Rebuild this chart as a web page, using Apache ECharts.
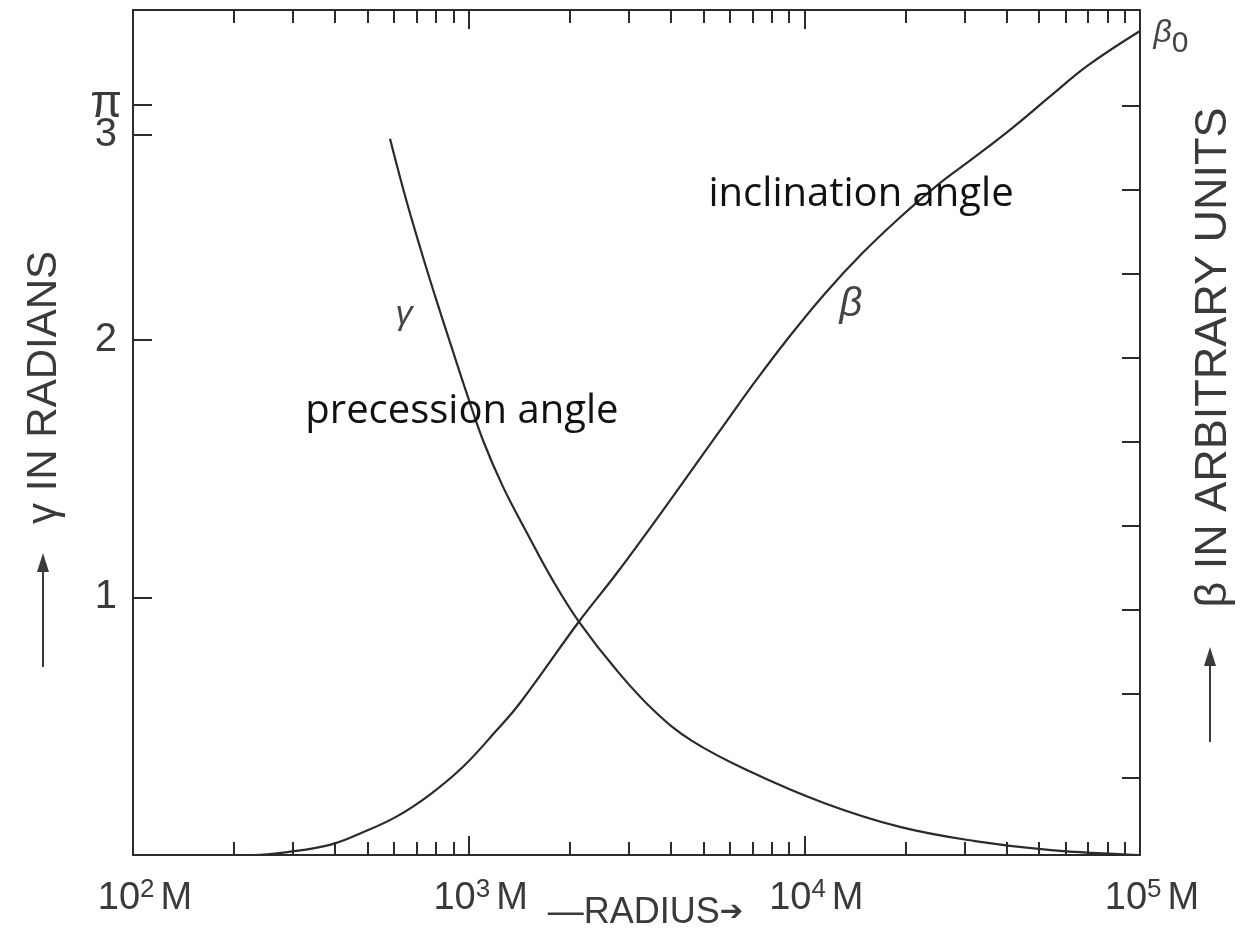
<!DOCTYPE html>
<html>
<head>
<meta charset="utf-8">
<title>Precession and inclination angle vs radius</title>
<script src="https://cdn.jsdelivr.net/npm/echarts@6.0.0/dist/echarts.min.js"></script>
<style>
  html, body { margin: 0; padding: 0; background: #fff; }
  #chart { width: 1250px; height: 937px; }
</style>
</head>
<body>
<div id="chart"></div>
<script>
// radius in units of M
const gammaRadius = [583, 646, 716, 794, 880, 988, 1103, 1265, 1492, 1783, 2132, 2768, 3567, 4628, 6839, 11440, 19260, 32220, 54300, 100000]
// precession angle γ, radians
const gammaValue = [2.78, 2.56, 2.36, 2.17, 1.99, 1.79, 1.61, 1.43, 1.25, 1.065, 0.905, 0.715, 0.56, 0.443, 0.326, 0.202, 0.109, 0.054, 0.019, 0.0]

const betaRadius = [100, 228, 294, 386, 484, 611, 767, 962, 1215, 1422, 2132, 2768, 4062, 6003, 7178, 8818, 11440, 14850, 19260, 24830, 32220, 41790, 54300, 69980, 100000]
// inclination angle β, arbitrary units (right axis)
const betaValue = [0.08, 0.08, 0.12, 0.2, 0.35, 0.54, 0.8, 1.13, 1.57, 1.89, 2.86, 3.44, 4.35, 5.3, 5.73, 6.2, 6.75, 7.24, 7.67, 8.05, 8.39, 8.74, 9.12, 9.48, 9.89]

const decadeTicks = [100, 1000, 10000, 100000]
const decadeExponents = ['2', '3', '4', '5']
const majorTicks = [1000, 10000]
const minorTicks = [
  200, 300, 400, 500, 600, 700, 800, 900,
  2000, 3000, 4000, 5000, 6000, 7000, 8000, 9000,
  20000, 30000, 40000, 50000, 60000, 70000, 80000, 90000
]
// left scale as drawn: the two top ticks sit where the figure puts them
const gammaTickValues = [1, 2, 2.796]
const gammaTickLabels = ['1', '2', '3']
const piTickValues = [2.913]
const piTickLabels = ['π']
const betaTickValues = [1, 2, 3, 4, 5, 6, 7, 8, 9]

const INK = '#2b2b2b'
const TEXT = '#3a3a3a'
const AXIS_FONT = 'Liberation Sans'
const NOTE_FONT = 'Open Sans'

const chart = echarts.init(document.getElementById('chart'))

function radiusAxis(position, tickValues, tickLength, showLine, extra) {
  return Object.assign({
    type: 'log',
    logBase: 10,
    min: 100,
    max: 100000,
    position,
    axisLine: { show: showLine, onZero: false, lineStyle: { color: INK, width: 2 } },
    axisTick: {
      show: true,
      inside: true,
      length: tickLength,
      customValues: tickValues,
      lineStyle: { color: INK, width: 2 }
    },
    axisLabel: { show: false },
    splitLine: { show: false },
    minorTick: { show: false }
  }, extra || {})
}

function gammaAxis(tickValues, tickLabels, showLine, extra) {
  return Object.assign({
    type: 'value',
    min: 0,
    max: 3.28,
    position: 'left',
    axisLine: { show: showLine, onZero: false, lineStyle: { color: INK, width: 2 } },
    axisTick: { show: true, inside: true, length: 19, customValues: tickValues, lineStyle: { color: INK, width: 2 } },
    axisLabel: {
      customValues: tickValues,
      hideOverlap: false,
      formatter: (v) => tickLabels[tickValues.indexOf(v)],
      fontFamily: AXIS_FONT,
      fontSize: 40,
      color: TEXT,
      margin: 16
    },
    splitLine: { show: false }
  }, extra || {})
}

const noteLabel = (text, extra) => Object.assign({
  show: true,
  formatter: text,
  position: 'right',
  distance: 0,
  fontFamily: NOTE_FONT,
  fontSize: 40,
  color: '#111'
}, extra || {})

const greekLabel = (text, size) => noteLabel(text, {
  fontFamily: AXIS_FONT,
  fontStyle: 'italic',
  fontSize: size,
  color: '#444'
})

const hiddenPoint = {
  symbol: 'circle',
  symbolSize: 1,
  itemStyle: { color: 'rgba(0,0,0,0)' },
  emphasis: { disabled: true }
}

chart.setOption({
  animation: false,
  backgroundColor: '#fff',
  grid: { left: 133, right: 110, top: 10, bottom: 82, containLabel: false, outerBoundsMode: 'none' },
  xAxis: [
    radiusAxis('bottom', minorTicks, 13, true, {
      axisLabel: {
        show: true,
        customValues: decadeTicks,
        hideOverlap: false,
        margin: 22,
        padding: [0, 0, 0, 24],
        formatter: (v) => `{n|10}{s|${decadeExponents[decadeTicks.indexOf(v)]}}{m|M}`,
        rich: {
          n: { fontFamily: AXIS_FONT, fontSize: 38, color: TEXT, lineHeight: 44 },
          s: { fontFamily: AXIS_FONT, fontSize: 26, color: TEXT, lineHeight: 14, verticalAlign: 'top' },
          m: { fontFamily: AXIS_FONT, fontSize: 38, color: TEXT, lineHeight: 44, padding: [0, 0, 0, 6] }
        }
      },
      name: '—RADIUS{a|➔}',
      nameLocation: 'middle',
      nameGap: 40,
      nameMoveOverlap: false,
      nameTextStyle: {
        fontFamily: AXIS_FONT,
        fontSize: 36,
        color: TEXT,
        padding: [0, 0, 0, 18],
        rich: { a: { fontFamily: 'DejaVu Sans', fontSize: 28, color: TEXT } }
      }
    }),
    radiusAxis('bottom', majorTicks, 19, false),
    radiusAxis('top', minorTicks, 13, true),
    radiusAxis('top', majorTicks, 19, false)
  ],
  yAxis: [
    gammaAxis(gammaTickValues, gammaTickLabels, true, {
      name: 'γ IN RADIANS',
      nameLocation: 'middle',
      nameRotate: 90,
      nameGap: 68,
      nameMoveOverlap: false,
      nameTextStyle: { fontFamily: AXIS_FONT, fontSize: 42, color: TEXT, padding: [0, 0, 0, 90] }
    }),
    {
      type: 'value',
      min: 0.08,
      max: 10.14,
      position: 'right',
      axisLine: { show: true, lineStyle: { color: INK, width: 2 } },
      axisTick: { show: true, inside: true, length: 18, customValues: betaTickValues, lineStyle: { color: INK, width: 2 } },
      axisLabel: { show: false },
      splitLine: { show: false },
      name: 'β IN ARBITRARY UNITS',
      nameLocation: 'middle',
      nameRotate: 90,
      nameGap: 51,
      nameMoveOverlap: false,
      nameTextStyle: { fontFamily: AXIS_FONT, fontSize: 45, color: TEXT, padding: [0, 0, 0, 150] }
    },
    gammaAxis(piTickValues, piTickLabels, false, {
      axisLabel: {
        customValues: piTickValues,
        hideOverlap: false,
        formatter: () => piTickLabels[0],
        fontFamily: AXIS_FONT,
        fontSize: 46,
        color: TEXT,
        margin: 11
      }
    })
  ],
  graphic: [
    // the little arrows that lead into the two axis titles
    { type: 'line', shape: { x1: 43, y1: 667, x2: 43, y2: 568 }, style: { stroke: TEXT, lineWidth: 2 } },
    { type: 'polygon', shape: { points: [[43, 553], [37, 572], [49, 572]] }, style: { fill: TEXT } },
    { type: 'line', shape: { x1: 1210, y1: 742, x2: 1210, y2: 662 }, style: { stroke: TEXT, lineWidth: 2 } },
    { type: 'polygon', shape: { points: [[1210, 647], [1204, 666], [1216, 666]] }, style: { fill: TEXT } }
  ],
  series: [
    {
      name: 'γ',
      type: 'line',
      xAxisIndex: 0,
      yAxisIndex: 0,
      data: gammaRadius.map((r, i) => [r, gammaValue[i]]),
      symbol: 'none',
      smooth: 0.4,
      lineStyle: { color: INK, width: 2.2 },
      markPoint: Object.assign({}, hiddenPoint, {
        data: [
          { coord: [325, 1.72], label: noteLabel('precession angle') },
          { coord: [603, 2.097], label: greekLabel('γ', 34) }
        ]
      })
    },
    {
      name: 'β',
      type: 'line',
      xAxisIndex: 0,
      yAxisIndex: 1,
      data: betaRadius.map((r, i) => [r, betaValue[i]]),
      symbol: 'none',
      smooth: 0.4,
      lineStyle: { color: INK, width: 2.2 },
      markPoint: Object.assign({}, hiddenPoint, {
        data: [
          { coord: [5164, 7.94], label: noteLabel('inclination angle') },
          { coord: [12685, 6.63], label: greekLabel('β', 40) },
          {
            coord: [100000, 9.89],
            label: {
              show: true,
              position: 'right',
              distance: 13,
              offset: [0, 13],
              formatter: '{b|β}{s|0}',
              rich: {
                b: { fontFamily: AXIS_FONT, fontStyle: 'italic', fontSize: 32, color: '#444', lineHeight: 32, verticalAlign: 'top' },
                s: { fontFamily: AXIS_FONT, fontSize: 30, color: '#444', lineHeight: 54 }
              }
            }
          }
        ]
      })
    }
  ]
})
</script>
</body>
</html>
